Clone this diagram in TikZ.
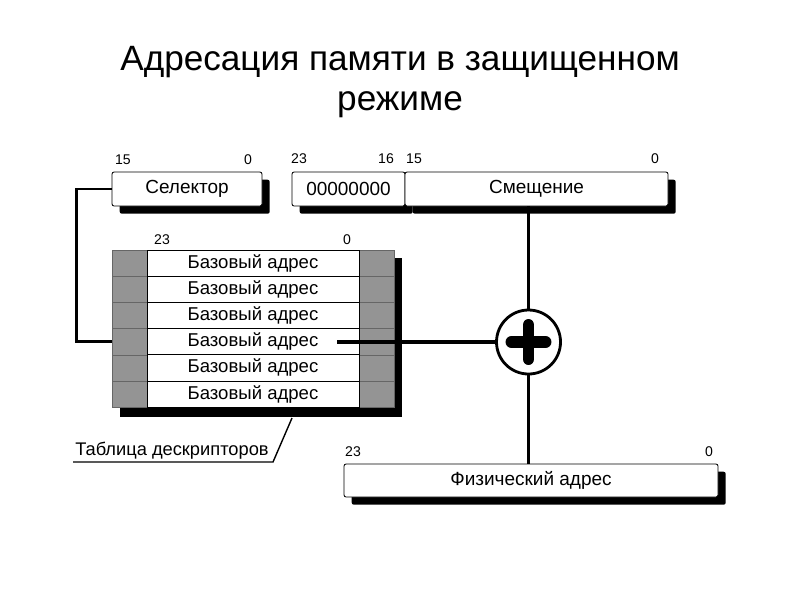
\documentclass[tikz,border=0pt]{standalone}
\usepackage{fontspec}
\setmainfont{Liberation Sans}
\usetikzlibrary{shadows}
\tikzset{
  regbox/.style={draw, fill=white, rounded corners=1.5pt, line width=0.6pt,
    minimum height=34*0.025cm, inner sep=0pt, font=\fontsize{13.5}{15}\selectfont},
  solidshadow/.style={drop shadow={shadow xshift=5.5pt, shadow yshift=-5.5pt,
    fill=black, opacity=1}},
  bitnum/.style={font=\fontsize{10}{12}\selectfont, inner sep=0pt},
  graycell/.style={draw=black!60, fill=black!42, line width=0.4pt,
    minimum width=35*0.025cm, minimum height=26.2*0.025cm, inner sep=0pt},
  whitecell/.style={draw, fill=white, line width=0.5pt, minimum width=212*0.025cm,
    minimum height=26.2*0.025cm, inner sep=0pt, font=\fontsize{13.2}{14}\selectfont},
  wire/.style={line width=2pt},
}
\begin{document}
\begin{tikzpicture}[x=0.025cm, y=-0.025cm]
  \useasboundingbox (0,0) rectangle (800,600);

  % title
  \node[anchor=base, font=\fontsize{25}{30}\selectfont, inner sep=0pt] (title) at (400,70) {Адресация памяти в защищенном};
  \node[anchor=base, font=\fontsize{25}{30}\selectfont, inner sep=0pt] (title2) at (400,110) {режиме};

  % registers
  \node[regbox, solidshadow, minimum width=150*0.025cm] (sel) at (187,189) {Селектор\hspace{0.25cm}};
  \node[regbox, solidshadow, minimum width=113*0.025cm] (hi) at (348.5,189) {00000000};
  \node[regbox, solidshadow, minimum width=263*0.025cm] (off) at (536.5,189) {Смещение\hspace{0.5cm}};

  % bit numbers
  \foreach \x/\y/\t [count=\i] in {123/160/15, 248/160/0, 299/159/23, 386/159/16,
      414/159/15, 655/159/0, 162/240/23, 347/240/0, 353/452/23, 709/452/0}
    \node[bitnum] (num\i) at (\x,\y) {\t};

  % descriptor table
  \fill (120,258) rectangle (402,417);
  \foreach \i in {1,...,6} {
    \pgfmathsetmacro\ry{263.1+26.2*(\i-1)}
    \node[graycell] (gl\i) at (129.5,\ry) {};
    \node[graycell] (gr\i) at (376.5,\ry) {};
    \node[whitecell] (row\i) at (253,\ry) {Базовый адрес};
  }

  % adder
  \node[circle, draw, line width=2pt, fill=white, minimum size=64*0.025cm] (sum) at (528.5,342) {};
  \draw[line width=8.5pt, line cap=round] (sum.center) ++(-17,0) -- ++(34,0);
  \draw[line width=8.5pt, line cap=round] (sum.center) ++(0,-17) -- ++(0,34);

  % physical address
  \node[regbox, solidshadow, minimum width=374*0.025cm, minimum height=33*0.025cm] (phys) at (531,480.5) {Физический адрес\hspace{0.2cm}};

  % wires
  \draw[wire] (sel.west) -- ++(-35,0) |- (gl4.west);
  \draw[wire] (off.south -| sum.north) -- (sum.north);
  \coordinate (base) at (337,342);
  \draw[line width=2.5pt] (base) -- (sum.west);
  \draw[wire] (sum.south) -- (sum.south |- phys.north);

  % table label
  \node[anchor=base west, font=\fontsize{13}{15}\selectfont, inner sep=0pt] (tablbl) at (75,455) {Таблица дескрипторов};
  \coordinate (ul1) at (73,462);
  \coordinate (ul2) at (273,462);
  \coordinate (ul3) at (292,418);
  \draw[line width=1pt] (ul1) -- (ul2) -- (ul3);
\end{tikzpicture}
\end{document}
